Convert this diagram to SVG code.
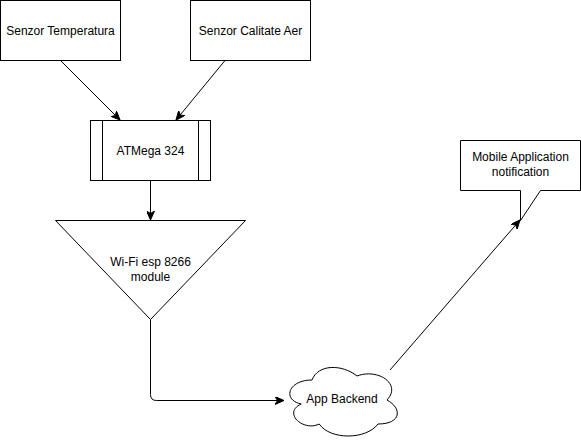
<svg xmlns="http://www.w3.org/2000/svg" width="581" height="441" viewBox="0 0 581 441">
<style>
.s{fill:#fff;stroke:#000;stroke-width:1}
.t{font-family:"Liberation Sans",Arial,sans-serif;font-size:12px;fill:#000;text-anchor:middle}
.c{fill:none;stroke:#000;stroke-width:1}
</style>
<defs>
<marker id="a" markerWidth="10" markerHeight="8" refX="9" refY="4" orient="auto" markerUnits="userSpaceOnUse">
<path d="M0,0 L9,4 L0,8 L2.5,4 Z" fill="#000" stroke="#000" stroke-width="1"/>
</marker>
</defs>
<rect width="581" height="441" fill="#fff"/>
<g id="n-temp">
<rect class="s" x="0.5" y="0.5" width="120" height="60"/>
<text class="t" x="60.5" y="34.5">Senzor Temperatura</text>
</g>
<g id="n-aer">
<rect class="s" x="190.5" y="0.5" width="120" height="60"/>
<text class="t" x="250.5" y="34.5">Senzor Calitate Aer</text>
</g>
<g id="n-atmega">
<rect class="s" x="90.5" y="120.5" width="120" height="60"/>
<line class="c" x1="102.5" y1="120.5" x2="102.5" y2="180.5"/>
<line class="c" x1="198.5" y1="120.5" x2="198.5" y2="180.5"/>
<text class="t" x="150.5" y="154.5">ATMega 324</text>
</g>
<g id="n-wifi">
<path class="s" d="M55.5,220.5 L245.5,220.5 L150.5,319.5 Z"/>
<text class="t" x="150.5" y="266">Wi-Fi esp 8266</text>
<text class="t" x="150.5" y="281">module</text>
</g>
<g id="n-backend">
<path class="s" d="M312,380 C288,380 282,400 301.2,404 C282,412.8 303.6,432 319.2,424 C330,440 366,440 378,424 C402,424 402,408 387,400 C402,384 378,368 357,376 C342,364 318,364 312,380 Z"/>
<text class="t" x="342" y="403">App Backend</text>
</g>
<g id="n-mobile">
<path class="s" d="M460.5,140.5 L580.5,140.5 L580.5,190.5 L540.5,190.5 L520.5,220.5 L520.5,190.5 L460.5,190.5 Z"/>
<text class="t" x="520.5" y="161">Mobile Application</text>
<text class="t" x="520.5" y="176">notification</text>
</g>
<g id="connectors">
<line class="c" x1="60.5" y1="60.5" x2="120" y2="120" marker-end="url(#a)"/>
<line class="c" x1="225" y1="60.5" x2="176" y2="120" marker-end="url(#a)"/>
<line class="c" x1="150.5" y1="180.5" x2="150.5" y2="220" marker-end="url(#a)"/>
<path class="c" d="M150.5,319.5 L150.5,394.5 Q150.5,400.5 156.5,400.5 L284,400.5" marker-end="url(#a)"/>
<line class="c" x1="390" y1="370" x2="520" y2="220" marker-end="url(#a)"/>
</g>
</svg>
